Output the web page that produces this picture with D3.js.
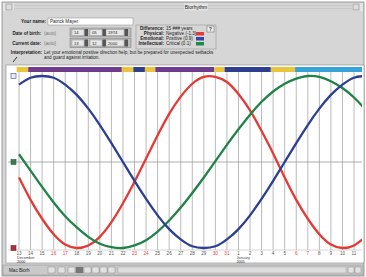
<!DOCTYPE html>
<html>
<head>
<meta charset="utf-8">
<script src="https://cdn.jsdelivr.net/npm/d3@7"></script>
<style>
  body { margin: 0; background: #fff; }
  svg { display: block; font-family: "Liberation Sans", "DejaVu Sans", sans-serif; }
</style>
</head>
<body>
<div id="chart"></div>
<script>
// Day labels (Dec 13 2000 .. Jan 11 2001)
const dayLabels = ["13","14","15","16","17","18","19","20","21","22","23","24","25","26","27","28","29","30","31",
                   "1","2","3","4","5","6","7","8","9","10","11"];
const weekendLabels = ["16","17","23","24","30","31","6","7"];
const weekendIdx = [3, 4, 10, 11, 17, 18, 24, 25];
const monthLabels = [{i: 0, name: "December", year: "2000"}, {i: 19, name: "January", year: "2001"}];

// Rhythm values per day (-1 .. 1)
const physical = [-0.18,-0.44,-0.66,-0.84,-0.96,-1.00,-0.97,-0.87,-0.70,-0.48,-0.23,0.04,0.31,0.56,0.76,0.91,0.99,0.99,
                  0.93,0.79,0.60,0.36,0.10,-0.18,-0.44,-0.66,-0.84,-0.96,-1.00,-0.97,-0.87];
const emotional = [0.90,0.98,1.00,0.98,0.90,0.78,0.62,0.43,0.22,0.00,-0.22,-0.43,-0.62,-0.78,-0.90,-0.98,-1.00,-0.98,
                   -0.90,-0.78,-0.62,-0.43,-0.22,0.00,0.22,0.43,0.62,0.78,0.90,0.98,1.00];
const intellectual = [0.09,-0.10,-0.29,-0.47,-0.63,-0.76,-0.87,-0.95,-0.99,-1.00,-0.97,-0.91,-0.81,-0.68,-0.53,-0.36,-0.18,
                      0.01,0.20,0.38,0.55,0.70,0.82,0.91,0.97,1.00,0.99,0.94,0.86,0.75,0.61];

// Top band segments (start day index, kind)
const bandStarts = [-0.2, 0.8, 8.9, 9.9, 10.9, 11.8, 16.9, 17.8, 21.8, 23.9];
const bandKinds  = ["Y", "P", "Y", "B", "Y", "P", "Y", "B", "Y", "C"];
const bandEnd = 31;

const W = 366, H = 277;
const svg = d3.select("#chart").append("svg").attr("width", W).attr("height", H);

// ---- window frame & header panel
svg.append("rect").attr("x", 0).attr("y", 0).attr("width", W).attr("height", H).attr("fill", "#fff");
svg.append("rect").attr("x", 2).attr("y", 2).attr("width", W - 4).attr("height", H - 3)
    .attr("fill", "#d6d6d6").attr("stroke", "#888").attr("stroke-width", 0.8);

// title bar
const tb = svg.append("g");
tb.append("rect").attr("x", 3).attr("y", 3).attr("width", W - 6).attr("height", 8).attr("fill", "#e4e4e4");
d3.range(4, 11, 1.5).forEach(yy => {
    tb.append("line").attr("x1", 14).attr("x2", W - 14).attr("y1", yy).attr("y2", yy)
        .attr("stroke", "#aaa").attr("stroke-width", 0.5);
});
tb.append("rect").attr("x", 6).attr("y", 4).attr("width", 6).attr("height", 6).attr("fill", "#ddd").attr("stroke", "#777").attr("stroke-width", 0.5);
tb.append("rect").attr("x", W - 13).attr("y", 4).attr("width", 6).attr("height", 6).attr("fill", "#ddd").attr("stroke", "#777").attr("stroke-width", 0.5);
tb.append("rect").attr("x", 184).attr("y", 3.5).attr("width", 24).attr("height", 7).attr("fill", "#e4e4e4");
tb.append("text").attr("x", 196).attr("y", 9).attr("text-anchor", "middle").attr("font-size", 5).attr("fill", "#222").text("Biorhythm");

const hdr = svg.append("g").attr("font-size", 4.6).attr("fill", "#222");
function label(x, y, t, anchor, bold, color) {
    hdr.append("text").attr("x", x).attr("y", y).attr("text-anchor", anchor || "start")
        .attr("font-weight", bold ? "bold" : "normal").attr("fill", color || "#222").text(t);
}
label(46, 23, "Your name:", "end", true);
hdr.append("rect").attr("x", 48).attr("y", 18).attr("width", 85).attr("height", 7).attr("fill", "#fff").attr("stroke", "#888").attr("stroke-width", 0.5);
label(50, 23.3, "Patrick Mayer");

label(41, 34.5, "Date of birth:", "end", true);
label(44, 34.5, "(auto)", "start", false, "#777");
label(41, 44.5, "Current date:", "end", true);
label(44, 44.5, "(auto)", "start", false, "#777");
[[28, ["14", "05", "1974"]], [38.5, ["13", "12", "2000"]]].forEach(([yy, parts]) => {
    const g = hdr.append("g");
    g.append("rect").attr("x", 70).attr("y", yy).attr("width", 61).attr("height", 9).attr("fill", "#bbb").attr("stroke", "#777").attr("stroke-width", 0.5);
    const xs = [72, 90, 106];
    const ws = [12, 12, 18];
    parts.forEach((p, k) => {
        g.append("rect").attr("x", xs[k]).attr("y", yy + 1.5).attr("width", ws[k]).attr("height", 6).attr("fill", "#e8e8e8").attr("stroke", "#888").attr("stroke-width", 0.4);
        g.append("text").attr("x", xs[k] + 2).attr("y", yy + 6.3).attr("font-size", 4.2).text(p);
        g.append("rect").attr("x", xs[k] + ws[k] + 0.5).attr("y", yy + 1).attr("width", 3.5).attr("height", 7).attr("fill", "#555");
    });
});

// difference box
hdr.append("rect").attr("x", 136).attr("y", 25).attr("width", 80).attr("height", 24).attr("fill", "none").attr("stroke", "#999").attr("stroke-width", 0.6);
label(164, 30, "Difference:", "end", true);
label(164, 35, "Physical:", "end", true);
label(164, 40, "Emotional:", "end", true);
label(164, 45, "Intellectual:", "end", true);
label(166, 30, "15 ### years");
label(166, 35, "Negative (-1.3)");
label(166, 40, "Positive (0.9)");
label(166, 45, "Critical (0.1)");
[["#e23a3a", 32], ["#2f4aa0", 37], ["#1f8a48", 42]].forEach(([c, yy]) => {
    hdr.append("rect").attr("x", 196).attr("y", yy).attr("width", 8).attr("height", 3.5).attr("fill", c);
});
hdr.append("rect").attr("x", 207).attr("y", 26).attr("width", 7).attr("height", 6).attr("fill", "#eee").attr("stroke", "#666").attr("stroke-width", 0.5);
label(210.5, 30.8, "?", "middle", true);

label(42, 54, "Interpretation:", "end", true);
label(44, 54, "Let your emotional positive direction help, but be prepared for unexpected setbacks");
label(44, 59, "and guard against irritation.");
hdr.append("line").attr("x1", 13).attr("y1", 62).attr("x2", 17).attr("y2", 57).attr("stroke", "#333").attr("stroke-width", 1);

// ---- plot
const plotL = 8, plotR = 362, plotT = 65, plotB = 263;
svg.append("rect").attr("x", plotL - 2).attr("y", plotT).attr("width", plotR - plotL + 4).attr("height", plotB - plotT)
    .attr("fill", "#fff").attr("stroke", "#888").attr("stroke-width", 0.6);

const x = d3.scaleLinear().domain([0, 29]).range([19, 354]);
const y = d3.scaleLinear().domain([-1, 1]).range([248, 76]);

svg.append("clipPath").attr("id", "clip").append("rect")
    .attr("x", plotL).attr("y", plotT).attr("width", plotR - plotL).attr("height", plotB - plotT);
const plot = svg.append("g").attr("clip-path", "url(#clip)");

// band
const bandColors = {Y: "#e9c53c", P: "#6f3b8c", B: "#2d3f8e", C: "#36a2d8"};
bandStarts.forEach((s, k) => {
    const e = k < bandStarts.length - 1 ? bandStarts[k + 1] : bandEnd;
    plot.append("rect").attr("x", x(s)).attr("y", 67).attr("width", x(e) - x(s)).attr("height", 5)
        .attr("fill", bandColors[bandKinds[k]]);
});

// grid
plot.append("g").selectAll("line").data(d3.range(dayLabels.length)).join("line")
    .attr("x1", d => x(d)).attr("x2", d => x(d)).attr("y1", 72).attr("y2", 250)
    .attr("stroke", "#a8a8a8").attr("stroke-width", 0.8);
plot.append("line").attr("x1", plotL).attr("x2", plotR).attr("y1", y(0)).attr("y2", y(0))
    .attr("stroke", "#999").attr("stroke-width", 0.8);
plot.append("line").attr("x1", plotL).attr("x2", plotR).attr("y1", 250).attr("y2", 250)
    .attr("stroke", "#bbb").attr("stroke-width", 0.6);

// curves
const line = d3.line().x((d, i) => x(i)).y(d => y(d)).curve(d3.curveNatural);
[[physical, "#e43a36"], [intellectual, "#1f8346"], [emotional, "#2c3f94"]].forEach(([s, c]) => {
    plot.append("path").datum(s).attr("fill", "none").attr("stroke", c).attr("stroke-width", 2.3).attr("d", line);
});

// side markers
[[1, "#e8ecf4", "#44507a"], [0, "#3e7a52", "#2a5a3a"], [-1, "#a8323e", "#7a2030"]].forEach(([v, f, s]) => {
    svg.append("rect").attr("x", 11).attr("y", y(v) - 2.5).attr("width", 5).attr("height", 5)
        .attr("fill", f).attr("stroke", s).attr("stroke-width", 0.6);
});

// day labels
svg.append("g").attr("font-size", 4.6).selectAll("text").data(dayLabels).join("text")
    .attr("x", (d, i) => x(i)).attr("y", 255).attr("text-anchor", "middle")
    .attr("fill", (d, i) => weekendIdx.includes(i) ? "#e23a3a" : "#555").text(d => d);
monthLabels.forEach(m => {
    svg.append("text").attr("x", x(m.i) - 2).attr("y", 259).attr("font-size", 3.8).attr("fill", "#444").text(m.name);
    svg.append("text").attr("x", x(m.i) - 2).attr("y", 262.5).attr("font-size", 3.8).attr("fill", "#222").text(m.year);
});

// ---- status bar
const sb = svg.append("g");
sb.append("rect").attr("x", 3).attr("y", 265).attr("width", W - 6).attr("height", 10).attr("fill", "#c9c9c9").attr("stroke", "#888").attr("stroke-width", 0.5);
sb.append("text").attr("x", 9).attr("y", 272).attr("font-size", 4.6).attr("fill", "#222").text("Mac Biorh");
[48, 58, 68, 76, 84, 92, 100, 108].forEach((bx, k) => {
    sb.append("rect").attr("x", bx).attr("y", 267).attr("width", 7).attr("height", 6)
        .attr("fill", k === 3 ? "#777" : "#e2e2e2").attr("stroke", "#777").attr("stroke-width", 0.4);
});
sb.append("rect").attr("x", 118).attr("y", 267).attr("width", 228).attr("height", 6).attr("fill", "#ddd").attr("stroke", "#999").attr("stroke-width", 0.4);
sb.append("rect").attr("x", 348).attr("y", 267).attr("width", 6).attr("height", 6).attr("fill", "#e2e2e2").attr("stroke", "#777").attr("stroke-width", 0.4);
sb.append("rect").attr("x", 355).attr("y", 267).attr("width", 6).attr("height", 6).attr("fill", "#e2e2e2").attr("stroke", "#777").attr("stroke-width", 0.4);
</script>
</body>
</html>
